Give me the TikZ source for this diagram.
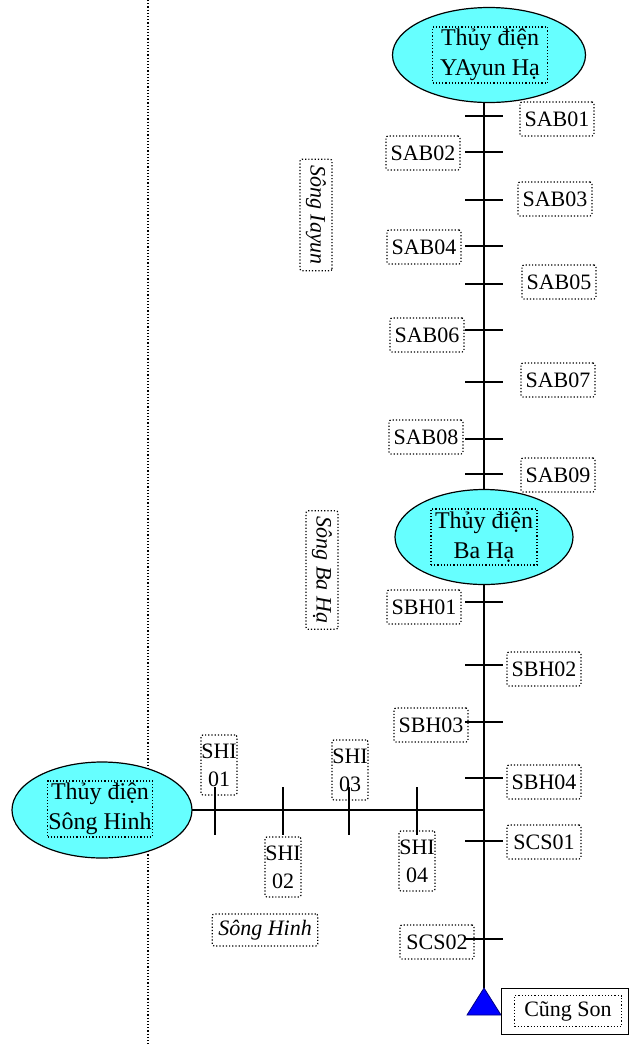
\documentclass[tikz,border=0pt]{standalone}
\usepackage{fontspec}
\setmainfont{Liberation Serif}
\usetikzlibrary{shapes,backgrounds,calc}
\definecolor{plantcyan}{RGB}{102,255,255}

\begin{document}
\begin{tikzpicture}[x=0.5pt,y=-0.5pt,
    plant/.style={ellipse,draw,fill=plantcyan,line width=0.6pt},
    plantname/.style={draw,densely dotted,line width=0.6pt,align=center,inner sep=0pt,minimum height=28pt,font=\fontsize{12}{15}\selectfont},
    site/.style={draw,densely dotted,line width=0.6pt,rounded corners=1pt,minimum width=37pt,minimum height=17pt,inner sep=0pt,font=\fontsize{11}{12}\selectfont},
    shisite/.style={draw,densely dotted,line width=0.6pt,rounded corners=1pt,minimum width=18pt,minimum height=30pt,inner sep=0pt,align=center,font=\fontsize{11}{14}\selectfont},
    river/.style={draw,densely dotted,line width=0.6pt,rounded corners=1pt,inner sep=3pt,font=\itshape\fontsize{11}{12}\selectfont}]
    \useasboundingbox (0,0) rectangle (628,1046);

    % Hydropower plants
    \node[plant,minimum width=96.5pt,minimum height=47.5pt] (yayun) at (489,55) {};
    \node[plantname,minimum width=57.5pt] (yayun-txt) at (490,55) {Thủy điện\\YAyun Hạ};
    \node[plant,minimum width=89pt,minimum height=47.5pt] (baha) at (484,537) {};
    \node[plantname,minimum width=53pt] (baha-txt) at (484,537) {Thủy điện\\Ba Hạ};
    \node[plant,minimum width=90pt,minimum height=48pt] (hinh) at (102,810) {};
    \node[plantname,minimum width=52.5pt] (hinh-txt) at (100,809) {Thủy điện\\Sông Hinh};

    % Outlet station
    \coordinate (csapex) at (484,988);
    \filldraw[fill=blue,draw=blue!50!black] (csapex) -- (467,1015) -- (501,1015) -- cycle;
    \node[draw,minimum width=63.5pt,minimum height=23pt,inner sep=0pt] (cungson) at (564.5,1011) {};
    \node[draw,densely dotted,line width=0.6pt,minimum width=53.5pt,minimum height=15.5pt,inner sep=0pt,font=\fontsize{11}{12}\selectfont] (cungson-txt) at (568,1011) {Cũng Son};

    % River lines behind the plants
    \begin{pgfonlayer}{background}
        \draw[densely dotted,line width=0.6pt] (148,0) -- (148,1046);
        \draw[line width=1pt] (yayun.center -| baha.center) -- (csapex);
        \draw[line width=1pt] (hinh.center) -- (hinh.center -| baha.center);
    \end{pgfonlayer}

    % Ticks on the main river
    \foreach \ty in {116,152,200,246,284,330,382,439,474,602,665,722,778,841,939}
        \draw[line width=0.8pt] (465,\ty) -- (503,\ty);
    % Ticks on Song Hinh
    \foreach \tx in {215,283,349,417}
        \draw[line width=0.8pt] (\tx,787) -- (\tx,835);

    % Stations, Song Iayun
    \node[site] (sab01) at (557,119) {SAB01};
    \node[site] (sab02) at (423,153) {SAB02};
    \node[site] (sab03) at (555,199) {SAB03};
    \node[site] (sab04) at (424,247) {SAB04};
    \node[site] (sab05) at (559,282) {SAB05};
    \node[site] (sab06) at (427,335) {SAB06};
    \node[site] (sab07) at (558,380) {SAB07};
    \node[site] (sab08) at (426,437) {SAB08};
    \node[site] (sab09) at (558,475) {SAB09};

    % Stations, Song Ba Ha and Cung Son
    \node[site] (sbh01) at (424,607) {SBH01};
    \node[site] (sbh02) at (544,669) {SBH02};
    \node[site] (sbh03) at (431,725) {SBH03};
    \node[site] (sbh04) at (544,782) {SBH04};
    \node[site] (scs01) at (544,842) {SCS01};
    \node[site] (scs02) at (437,942) {SCS02};

    % Stations, Song Hinh
    \node[shisite] (shi01) at (219,765) {SHI\\01};
    \node[shisite] (shi02) at (283,867) {SHI\\02};
    \node[shisite] (shi03) at (350,770) {SHI\\03};
    \node[shisite] (shi04) at (417,861) {SHI\\04};

    % River names
    \node[river,rotate=-90] (iayun) at (316,215) {Sông Iayun};
    \node[river,rotate=-90] (bahariver) at (322,570) {Sông Ba Hạ};
    \node[river] (hinhriver) at (265,930) {Sông Hinh};
\end{tikzpicture}
\end{document}
